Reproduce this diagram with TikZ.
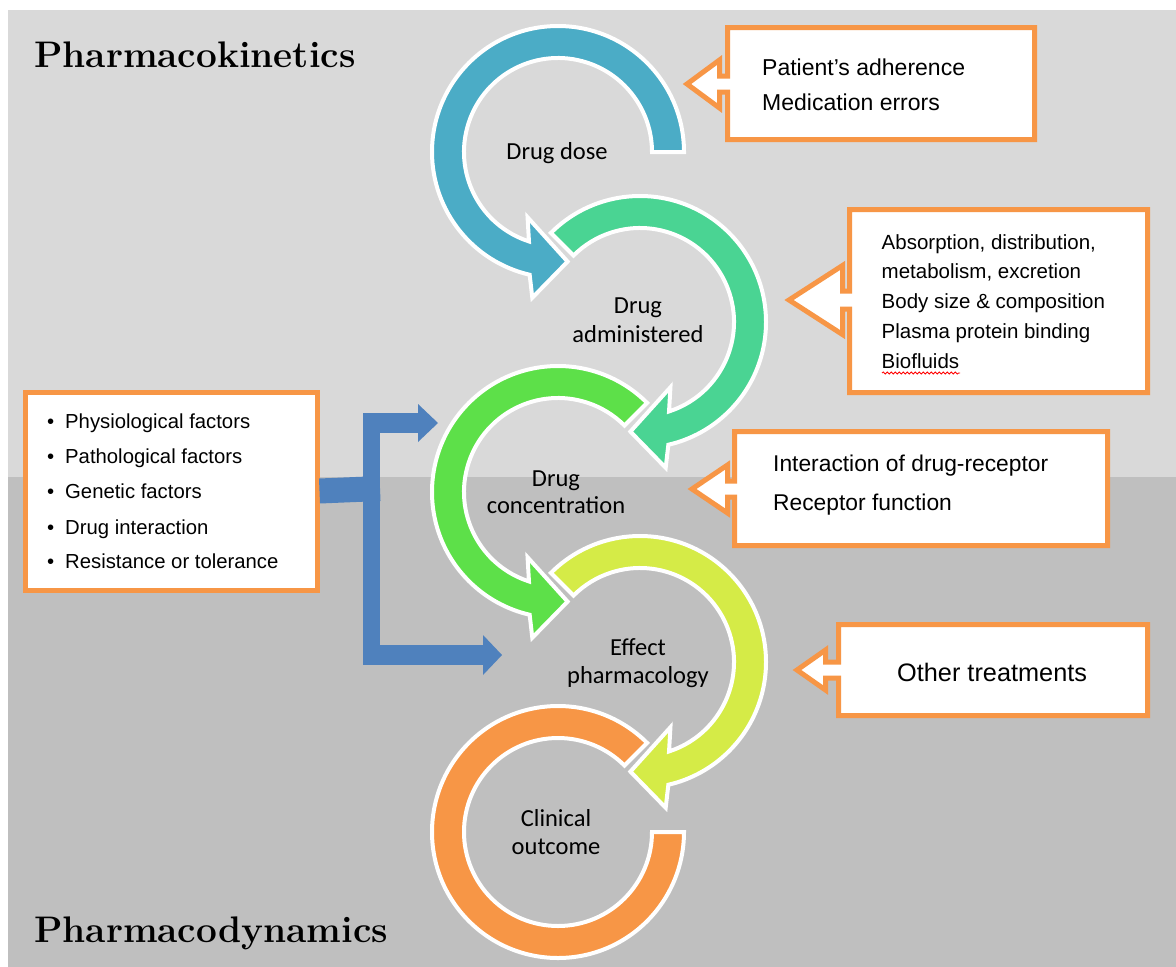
\documentclass[tikz,border=0pt]{standalone}
\usepackage{fontspec}
\newfontfamily\calib{Carlito}
\newfontfamily\arialf{Liberation Sans}
\usetikzlibrary{arrows.meta,decorations.pathmorphing}
\definecolor{bgtop}{HTML}{D9D9D9}
\definecolor{bgbot}{HTML}{BFBFBF}
\definecolor{cone}{HTML}{4BACC6}
\definecolor{ctwo}{HTML}{4AD493}
\definecolor{cthree}{HTML}{5DE049}
\definecolor{cfour}{HTML}{D5EB47}
\definecolor{cfive}{HTML}{F79646}
\definecolor{orangeb}{HTML}{F79646}
\definecolor{blueb}{HTML}{4F81BD}
\newcommand{\calloutbox}[9]{%
  \draw[callout] (#1,#2) -- (#3,#2) -- (#3,#4) -- (#1,#4) -- (#1,{#6+#8})
    -- ({#1-#9},{#6+#8}) -- ({#1-#9},{#6+#7}) -- (#5,#6) -- ({#1-#9},{#6-#7})
    -- ({#1-#9},{#6-#8}) -- (#1,{#6-#8}) -- cycle;}
\begin{document}
\begin{tikzpicture}[x=1pt,y=-1pt,
  ring/.style={draw=white, line width=4pt, line join=miter},
  callout/.style={draw=orangeb, fill=white, line width=5pt, line join=miter},
  ringtxt/.style={font=\calib\fontsize{24.5}{29}\selectfont, anchor=base, inner sep=0pt, text=black},
  boxtxt/.style={anchor=base west, inner sep=0pt, text=black},
  titletxt/.style={font=\fontsize{37}{44}\selectfont\bfseries, anchor=base west, inner sep=0pt, text=black},
  bluebar/.style={draw=blueb}]
\useasboundingbox (0,0) rectangle (1176,967);
% background
\fill[white] (0,0) rectangle (1176,967);
\fill[bgtop] (8,10) rectangle (1176,477);
\fill[bgbot] (8,477) rectangle (1176,967);
% rings
\draw[ring, fill=cone, shift={(558,152)}] (0:126) arc[start angle=0, end angle=-257, radius=126]
  -- (-260:148) -- (-275:110) -- (-245:72) -- (-252:94) arc[start angle=-252, end angle=0, radius=94] -- cycle;
\draw[ring, fill=ctwo, shift={(640,322)}] (-135:126) arc[start angle=-135, end angle=77, radius=126]
  -- (80:148) -- (95:110) -- (65:72) -- (72:94) arc[start angle=72, end angle=-135, radius=94] -- cycle;
\draw[ring, fill=cthree, shift={(558,492)}] (-45:126) arc[start angle=-45, end angle=-257, radius=126]
  -- (-260:148) -- (-275:110) -- (-245:72) -- (-252:94) arc[start angle=-252, end angle=-45, radius=94] -- cycle;
\draw[ring, fill=cfour, shift={(640,662)}] (-135:126) arc[start angle=-135, end angle=77, radius=126]
  -- (80:148) -- (95:110) -- (65:72) -- (72:94) arc[start angle=72, end angle=-135, radius=94] -- cycle;
\draw[ring, fill=cfive, shift={(558,832)}] (-45:126) arc[start angle=-45, end angle=-360, radius=126]
  -- (-360:94) arc[start angle=-360, end angle=-45, radius=94] -- cycle;
% ring texts
\node[ringtxt] (r1) at (557,159) {Drug dose};
\node[ringtxt] (r2a) at (638,313) {Drug};
\node[ringtxt] (r2b) at (638,342) {administered};
\node[ringtxt] (r3a) at (556,486) {Drug};
\node[ringtxt] (r3b) at (556,513) {concentration};
\node[ringtxt] (r4a) at (638,655) {Effect};
\node[ringtxt] (r4b) at (638,683) {pharmacology};
\node[ringtxt] (r5a) at (556,826) {Clinical};
\node[ringtxt] (r5b) at (556,854) {outcome};
% callouts
\calloutbox{727.5}{27.5}{1034.5}{139.5}{687}{84}{24}{8}{8}
\calloutbox{849.5}{209.5}{1147.5}{392.5}{789}{300}{34.5}{9}{7}
\calloutbox{734.5}{431.5}{1107.5}{545.5}{692}{489}{24}{8}{7}
\calloutbox{838.5}{624.5}{1147.5}{715.5}{797}{670}{20}{8}{13}
\node[boxtxt, font=\arialf\fontsize{23}{28}\selectfont] (b1a) at (762,75) {Patient’s adherence};
\node[boxtxt, font=\arialf\fontsize{23}{28}\selectfont] (b1b) at (762,110.7) {Medication errors};
\node[boxtxt, font=\arialf\fontsize{20.5}{25}\selectfont] (b2a) at (881.5,249) {Absorption, distribution,};
\node[boxtxt, font=\arialf\fontsize{20.5}{25}\selectfont] (b2b) at (881.5,278) {metabolism, excretion};
\node[boxtxt, font=\arialf\fontsize{20.5}{25}\selectfont] (b2c) at (881.5,308) {Body size \& composition};
\node[boxtxt, font=\arialf\fontsize{20.5}{25}\selectfont] (b2d) at (881.5,338) {Plasma protein binding};
\node[boxtxt, font=\arialf\fontsize{20.5}{25}\selectfont] (b2e) at (881.5,368) {Biofluids};
\draw[red, line width=0.8pt, decorate, decoration={snake, amplitude=1.1pt, segment length=4pt}] (882,373) -- (960,373);
\node[boxtxt, font=\arialf\fontsize{22.8}{28}\selectfont] (b3a) at (773,471.7) {Interaction of drug-receptor};
\node[boxtxt, font=\arialf\fontsize{22.8}{28}\selectfont] (b3b) at (773,510) {Receptor function};
\node[boxtxt, font=\arialf\fontsize{25.3}{30}\selectfont] (b4a) at (897,681.7) {Other treatments};
% left box
\node[draw=orangeb, fill=white, line width=5pt, minimum width=292pt, minimum height=198pt, inner sep=0pt, anchor=north west] (lbox) at (22.5,389.5) {};
\foreach \yy/\tt [count=\i] in {428/Physiological factors, 463/Pathological factors, 498/Genetic factors, 534/Drug interaction, 568/Resistance or tolerance}{
  \node[boxtxt, font=\arialf\fontsize{20.3}{25}\selectfont] (lb\i) at (47,\yy) {\textbullet};
  \node[boxtxt, font=\arialf\fontsize{20.3}{25}\selectfont] (lt\i) at (65,\yy) {\tt};
}
% blue connectors
\coordinate (jn) at (380,488.5);
\coordinate (vt) at (371.5,413);
\coordinate (vb) at (371.5,665);
\coordinate (tb1) at (363,423);
\coordinate (ar3) at (438,423);
\coordinate (tb2) at (363,655);
\coordinate (ar4) at (502,655);
\draw[bluebar, line width=25pt] (lbox.east) -- (jn);
\draw[bluebar, line width=17pt] (vt) -- (vb);
\draw[bluebar, line width=20pt, -{Triangle[width=38pt,length=20pt,line width=0pt]}] (tb1) -- (ar3);
\draw[bluebar, line width=20pt, -{Triangle[width=40pt,length=19pt,line width=0pt]}] (tb2) -- (ar4);
% titles
\node[titletxt] (pk) at (34,67) {Pharmacokinetics};
\node[titletxt] (pd) at (34,942) {Pharmacodynamics};
\end{tikzpicture}
\end{document}
